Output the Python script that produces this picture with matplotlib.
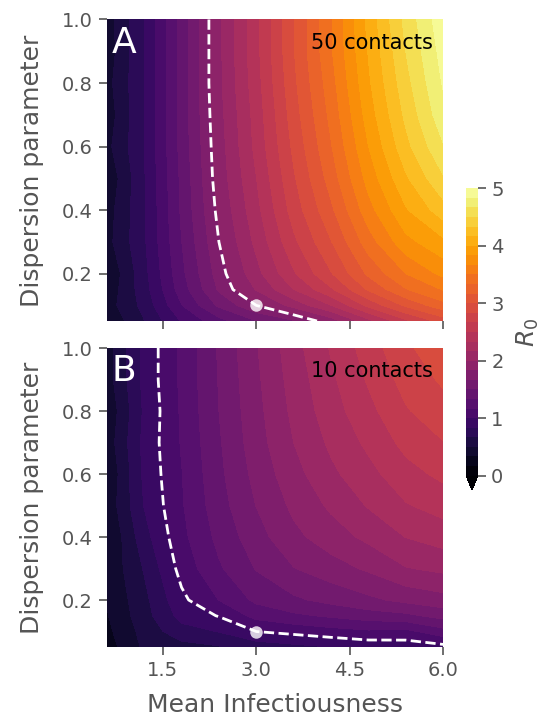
import numpy as np
import matplotlib.pyplot as plt

# grid
mean_inf = [0.6, 1.2, 1.8, 2.4, 3.0, 3.6, 4.2, 4.8, 5.4, 6.0]
dispersion = [0.05, 0.1, 0.15, 0.2, 0.3, 0.4, 0.5, 0.6, 0.7, 0.8, 0.9, 1.0]

# R0, rows = dispersion, cols = mean infectiousness
r0_50 = [
    [0.35, 0.66, 1.01, 1.27, 1.49, 1.64, 1.90, 2.27, 2.62, 2.90],
    [0.42, 0.72, 1.16, 1.53, 1.81, 2.06, 2.33, 2.71, 3.03, 3.27],
    [0.38, 0.76, 1.25, 1.69, 2.01, 2.33, 2.64, 3.02, 3.32, 3.51],
    [0.34, 0.78, 1.29, 1.74, 2.11, 2.48, 2.82, 3.20, 3.50, 3.71],
    [0.44, 0.81, 1.33, 1.81, 2.21, 2.63, 2.99, 3.42, 3.78, 3.96],
    [0.42, 0.81, 1.36, 1.86, 2.28, 2.74, 3.13, 3.60, 3.98, 4.26],
    [0.36, 0.82, 1.37, 1.90, 2.33, 2.81, 3.24, 3.73, 4.14, 4.48],
    [0.45, 0.83, 1.39, 1.92, 2.38, 2.87, 3.32, 3.83, 4.28, 4.65],
    [0.40, 0.83, 1.40, 1.94, 2.40, 2.92, 3.38, 3.91, 4.37, 4.78],
    [0.44, 0.83, 1.40, 1.96, 2.43, 2.96, 3.43, 3.97, 4.44, 4.85],
    [0.40, 0.83, 1.40, 1.96, 2.45, 2.99, 3.48, 4.01, 4.50, 4.90],
    [0.42, 0.83, 1.40, 1.96, 2.45, 2.99, 3.48, 4.05, 4.55, 4.95],
]
r0_10 = [
    [0.25, 0.53, 0.60, 0.65, 0.73, 0.78, 0.83, 0.88, 0.90, 0.94],
    [0.29, 0.56, 0.77, 0.84, 1.00, 1.05, 1.10, 1.14, 1.12, 1.27],
    [0.32, 0.60, 0.89, 1.01, 1.22, 1.30, 1.36, 1.42, 1.46, 1.56],
    [0.34, 0.62, 0.96, 1.17, 1.37, 1.47, 1.55, 1.63, 1.71, 1.77],
    [0.36, 0.68, 1.06, 1.31, 1.51, 1.66, 1.76, 1.86, 1.99, 2.04],
    [0.32, 0.77, 1.12, 1.38, 1.60, 1.79, 1.92, 2.04, 2.17, 2.24],
    [0.38, 0.84, 1.15, 1.43, 1.67, 1.87, 2.03, 2.18, 2.32, 2.40],
    [0.34, 0.87, 1.16, 1.46, 1.72, 1.94, 2.13, 2.28, 2.44, 2.54],
    [0.40, 0.88, 1.18, 1.48, 1.76, 2.00, 2.20, 2.37, 2.55, 2.66],
    [0.36, 0.86, 1.19, 1.50, 1.78, 2.04, 2.26, 2.45, 2.65, 2.77],
    [0.42, 0.88, 1.20, 1.51, 1.80, 2.07, 2.30, 2.52, 2.73, 2.86],
    [0.42, 0.88, 1.20, 1.52, 1.82, 2.10, 2.35, 2.58, 2.80, 2.95],
]
panels = [("A", "50 contacts", r0_50), ("B", "10 contacts", r0_10)]

# baseline parameters (the dot)
base_inf = 3.0
base_k = 0.1

grey = "#555555"
levels = np.linspace(0, 5, 31)

fig = plt.figure(figsize=(5.45, 7.22), dpi=100)
ax_a = fig.add_axes([0.196, 0.555, 0.617, 0.418])
ax_b = fig.add_axes([0.196, 0.1035, 0.617, 0.4145])
cax = fig.add_axes([0.855, 0.3213, 0.022, 0.418])

X, Y = np.meshgrid(mean_inf, dispersion)
for ax, (letter, label, r0) in zip([ax_a, ax_b], panels):
    Z = np.array(r0)
    cf = ax.contourf(X, Y, Z, levels=levels, cmap="inferno", extend="min")
    z_base = Z[dispersion.index(base_k), mean_inf.index(base_inf)]
    ax.contour(X, Y, Z, levels=[z_base], colors="white", linestyles="--", linewidths=2)
    ax.plot(base_inf, base_k, "o", color="white", alpha=0.8, ms=9, mec="none")
    ax.set_xlim(0.6, 6.0)
    ax.set_ylim(0.05, 1.0)
    ax.set_xticks([1.5, 3.0, 4.5, 6.0])
    ax.set_yticks([0.2, 0.4, 0.6, 0.8, 1.0])
    for s in ax.spines.values():
        s.set_visible(False)
    ax.tick_params(length=6, width=1.2, color=grey, labelcolor=grey, labelsize=14, pad=4)
    ax.set_ylabel("Dispersion parameter", fontsize=18, color=grey, labelpad=13)
    ax.text(0.015, 0.98, letter, transform=ax.transAxes, ha="left", va="top",
            fontsize=26, color="white")
    ax.text(0.97, 0.955, label, transform=ax.transAxes, ha="right", va="top",
            fontsize=15, color="black")

ax_a.set_xticklabels([])
ax_b.set_xticklabels(["1.5", "3.0", "4.5", "6.0"])
ax_b.set_xlabel("Mean Infectiousness", fontsize=18, color=grey, labelpad=9)

cb = fig.colorbar(cf, cax=cax, ticks=[0, 1, 2, 3, 4, 5])
cb.outline.set_visible(False)
cb.ax.tick_params(length=6, width=1.2, color=grey, labelcolor=grey, labelsize=14)
cb.set_label("$R_0$", fontsize=18, color=grey, labelpad=8)

fig.savefig("out.png", dpi=100)
